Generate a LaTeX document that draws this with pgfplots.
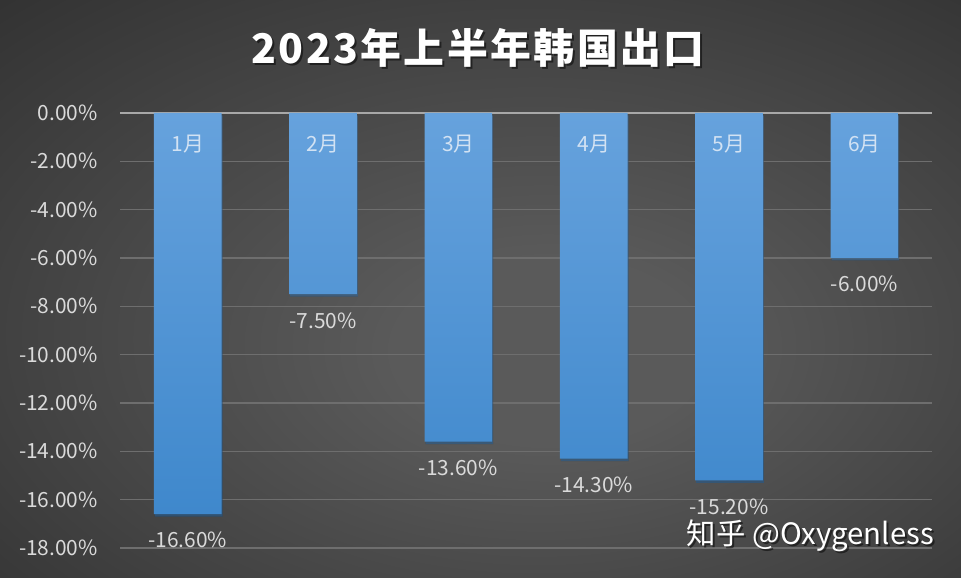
\documentclass[border=0pt]{standalone}
\usepackage{pgfplots}
\pgfplotsset{compat=1.18}
\usepackage{fontspec}
\setmainfont{Noto Sans CJK SC}
\usetikzlibrary{shadows}
\definecolor{bgin}{HTML}{5A5A5A}
\definecolor{bgout}{HTML}{222222}
\definecolor{barTop}{HTML}{66A2DD}
\definecolor{barBot}{HTML}{3F88CC}
\definecolor{gridc}{HTML}{6E6E6E}
\definecolor{zeroc}{HTML}{A8A8A8}
\definecolor{lblc}{HTML}{DADADA}
\definecolor{catc}{HTML}{D2E2F3}
\pgfdeclareradialshading{bgshade}{\pgfpoint{4bp}{-6bp}}{color(0bp)=(bgin); color(8bp)=(bgin); color(52bp)=(bgout); color(75bp)=(bgout)}
\begin{document}
\begin{tikzpicture}
\shade[shading=bgshade] (0,0) rectangle (961bp,578bp);
\begin{axis}[
  at={(120bp,30bp)}, anchor=south west,
  width=812bp, height=435bp, scale only axis,
  xmin=-0.5, xmax=5.5, ymin=-18, ymax=0,
  axis line style={draw=none},
  xtick=\empty,
  ytick={-18,-16,-14,-12,-10,-8,-6,-4,-2,0},
  yticklabels={-18.00\%,-16.00\%,-14.00\%,-12.00\%,-10.00\%,-8.00\%,-6.00\%,-4.00\%,-2.00\%,0.00\%},
  ymajorgrids, grid style={color=gridc, line width=1.3bp},
  major tick length=0pt,
  yticklabel style={font=\fontsize{21}{21}\selectfont, color=lblc, inner sep=0pt, anchor=east, xshift=-22bp},
  clip=false,
]
\draw[color=zeroc, line width=2bp] (axis cs:-0.5,0) -- (axis cs:5.5,0);
\addplot[ybar, bar width=0.5, bar shift=0pt, draw=none, top color=barTop, bottom color=barBot,
  drop shadow={shadow xshift=1bp, shadow yshift=-2.5bp, fill=black, opacity=0.45},
  nodes near coords, point meta=explicit symbolic,
  nodes near coords style={anchor=north, inner sep=0pt, yshift=-18bp, color=lblc, font=\fontsize{21}{21}\selectfont}]
coordinates {(0,-16.6)[-16.60\%] (1,-7.5)[-7.50\%] (2,-13.6)[-13.60\%] (3,-14.3)[-14.30\%] (4,-15.2)[-15.20\%] (5,-6.0)[-6.00\%]};
\addplot[draw=none, mark=none, nodes near coords, point meta=explicit symbolic,
  nodes near coords style={anchor=center, inner sep=0pt, color=catc, font=\fontsize{21}{21}\selectfont}]
coordinates {(0,-1.28)[1月] (1,-1.28)[2月] (2,-1.28)[3月] (3,-1.28)[4月] (4,-1.28)[5月] (5,-1.28)[6月]};
\end{axis}
\node[text=black, opacity=0.5, font=\fontsize{41}{41}\selectfont\bfseries\addfontfeature{LetterSpace=6}] at (480bp,528bp) {2023年上半年韩国出口};
\node[text=white, font=\fontsize{41}{41}\selectfont\bfseries\addfontfeature{LetterSpace=6}] at (478bp,530bp) {2023年上半年韩国出口};
\node[anchor=base east, inner sep=0pt, text=black, opacity=0.5, font=\fontsize{29.5}{29.5}\selectfont] at (936bp,32bp) {知乎 @Oxygenless};
\node[anchor=base east, inner sep=0pt, text=white, font=\fontsize{29.5}{29.5}\selectfont] at (934bp,34bp) {知乎 @Oxygenless};
\end{tikzpicture}
\end{document}
